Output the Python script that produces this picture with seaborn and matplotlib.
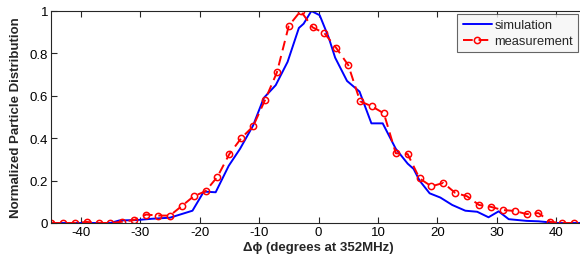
import matplotlib
matplotlib.use('Agg')
import matplotlib.pyplot as plt
import numpy as np
import pandas as pd
import seaborn as sns

# measured bunch profile (2 deg steps)
meas_phase = [-45, -43, -41, -39, -37, -35, -33, -31, -29, -27, -25, -23, -21, -19,
              -17, -15, -13, -11, -9, -7, -5, -3, -1, 1, 3, 5, 7, 9, 11, 13, 15,
              17, 19, 21, 23, 25, 27, 29, 31, 33, 35, 37, 39, 41, 43]
meas_val = [0.0, 0.0, 0.0, 0.005, 0.0, 0.0, 0.006, 0.014, 0.04, 0.035, 0.035, 0.08,
            0.126, 0.15, 0.218, 0.325, 0.40, 0.456, 0.58, 0.71, 0.93, 1.0, 0.923,
            0.895, 0.825, 0.745, 0.574, 0.55, 0.517, 0.329, 0.325, 0.21, 0.173,
            0.189, 0.142, 0.126, 0.085, 0.076, 0.061, 0.057, 0.042, 0.047, 0.005,
            0.0, 0.0]

# simulated profile
sim_phase = [-45, -35, -33.5, -30.5, -28, -25, -21.2, -19.3, -17.3, -15.1, -13.2,
             -11, -9.2, -7.2, -5.2, -3.3, -2.5, -1.2, 0.2, 1.7, 2.8, 4.8, 6.9,
             8.9, 10.8, 13, 15, 16, 17, 18.7, 20.5, 22.5, 24.7, 26.7, 28.6, 30.3,
             32, 35, 37, 40, 45]
sim_val = [0.0, 0.0, 0.012, 0.014, 0.02, 0.025, 0.058, 0.148, 0.145, 0.27, 0.35,
           0.46, 0.59, 0.65, 0.76, 0.92, 0.94, 1.0, 0.98, 0.876, 0.78, 0.67, 0.62,
           0.47, 0.47, 0.35, 0.28, 0.255, 0.2, 0.14, 0.12, 0.085, 0.058, 0.053,
           0.027, 0.055, 0.018, 0.01, 0.008, 0.0, 0.0]

sns.set_theme(style='white')
plt.rcParams['font.family'] = ['Liberation Sans', 'DejaVu Sans']
plt.rcParams['axes.unicode_minus'] = False

fig = plt.figure(figsize=(5.8, 2.55), dpi=100)
ax = fig.add_axes([51 / 580, 31 / 255, 535 / 580, 212 / 255])

sns.lineplot(x=sim_phase, y=sim_val, ax=ax, color='#0000ff', lw=1.4,
             label='simulation', sort=False)
sns.lineplot(x=meas_phase, y=meas_val, ax=ax, color='#ff0000', lw=1.4,
             linestyle=(0, (5, 3)), marker='o', markersize=4.5,
             markerfacecolor='none', markeredgecolor='#ff0000',
             markeredgewidth=1.1, label='measurement', sort=False)

ax.set_xlim(-45, 45)
ax.set_ylim(0, 1)
ax.set_xticks([-40, -30, -20, -10, 0, 10, 20, 30, 40])
ax.set_yticks([0, 0.2, 0.4, 0.6, 0.8, 1])
ax.set_yticklabels(['0', '0.2', '0.4', '0.6', '0.8', '1'])
ax.tick_params(direction='in', length=4, width=0.8, labelsize=9.5, pad=2,
               top=True, bottom=True, left=True, right=False, colors='#262626')
for lab in ax.get_xticklabels() + ax.get_yticklabels():
    lab.set_color('black')
for sp in ax.spines.values():
    sp.set_color('#262626')
    sp.set_linewidth(0.8)
ax.spines['right'].set_visible(False)

ax.set_xlabel('\u0394\u03d5 (degrees at 352MHz)', fontsize=9.5,
              fontweight='bold', labelpad=2)
ax.set_ylabel('Normalized Particle Distribution', fontsize=9.5,
              fontweight='bold', labelpad=6)

leg = ax.legend(loc='upper right', bbox_to_anchor=(578 / 580, 1 - 15 / 255),
                bbox_transform=fig.transFigure,
                frameon=True, fancybox=False, fontsize=9.3, handlelength=2.3,
                borderpad=0.4, labelspacing=0.3, handletextpad=0.15,
                borderaxespad=0)
leg.get_frame().set_edgecolor('#404040')
leg.get_frame().set_facecolor('#f6f6f6')
leg.get_frame().set_linewidth(0.8)

fig.savefig('out.png', dpi=100)
